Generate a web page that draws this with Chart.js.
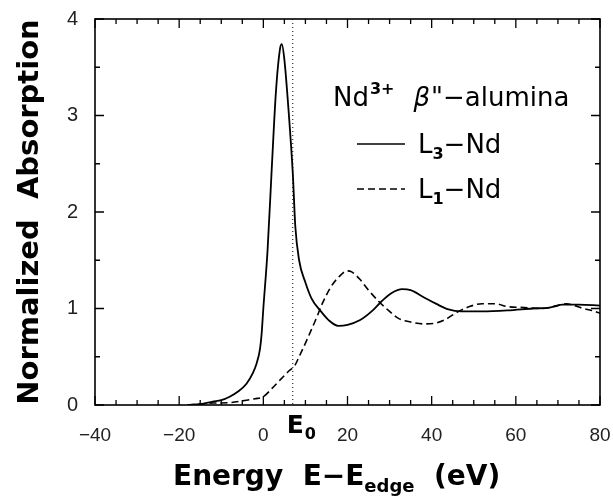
<!DOCTYPE html>
<html>
<head>
<meta charset="utf-8">
<script src="https://cdn.jsdelivr.net/npm/chart.js@4.4.0/dist/chart.umd.min.js"></script>
<style>
  html, body { margin: 0; padding: 0; background: #fff; }
  #wrap { width: 613px; height: 499px; }
</style>
</head>
<body>
<div id="wrap"><canvas id="grafico_absorcao"></canvas></div>
<script>
// energias (eV) e absorcao normalizada
const energiaL3 = [-18, -15, -12, -10, -8, -6, -4, -2.5, -1.6, -0.8, -0.4, 0, 1, 2, 3, 4, 4.4, 5, 6, 7, 7.6, 8.5, 10, 11.5, 13.5, 15.5, 17.8, 20, 23, 26, 28, 30.5, 33, 35, 38, 41, 44, 47, 52, 58, 64, 68, 71, 75, 80];
const absorcaoL3 = [0.0, 0.01, 0.035, 0.05, 0.086, 0.14, 0.22, 0.33, 0.43, 0.58, 0.74, 1.0, 1.6, 2.45, 3.25, 3.7, 3.74, 3.58, 3.05, 2.4, 1.85, 1.5, 1.27, 1.1, 0.98, 0.88, 0.82, 0.83, 0.88, 0.98, 1.07, 1.16, 1.2, 1.19, 1.12, 1.05, 0.99, 0.97, 0.97, 0.98, 1.0, 1.01, 1.04, 1.04, 1.03];

const energiaL1 = [-18, -15, -12, -8, -4, -2, 0, 2, 4, 6, 7.5, 8.5, 10.3, 12.7, 14, 16, 18, 20, 21, 23, 25, 27.5, 30, 32, 35, 38, 41, 43, 46, 49, 52, 55, 58, 62, 66, 70, 72, 74, 76, 78, 80];
const absorcaoL1 = [0.0, 0.01, 0.02, 0.024, 0.05, 0.065, 0.086, 0.17, 0.26, 0.35, 0.41, 0.5, 0.67, 0.91, 1.05, 1.22, 1.33, 1.39, 1.38, 1.3, 1.19, 1.07, 0.97, 0.9, 0.86, 0.84, 0.85, 0.88, 0.96, 1.02, 1.05, 1.05, 1.02, 1.01, 1.0, 1.03, 1.05, 1.03, 1.0, 0.98, 0.95];

const ticksX = [-40, -20, 0, 20, 40, 60, 80];
const ticksY = [0, 1, 2, 3, 4];
const E0 = 7;

const pontos = (xs, ys) => xs.map((x, i) => ({ x: x, y: ys[i] }));

// ticks para dentro, moldura, linha E0, legenda e titulos
const desenhosExtras = {
    id: 'desenhosExtras',
    afterDatasetsDraw(chart) {
        const ctx = chart.ctx;
        const a = chart.chartArea;
        const sx = chart.scales.x, sy = chart.scales.y;
        ctx.save();
        ctx.strokeStyle = '#000';
        ctx.fillStyle = '#000';

        // linha pontilhada E0
        ctx.lineWidth = 1;
        ctx.setLineDash([1, 3]);
        ctx.beginPath();
        ctx.moveTo(sx.getPixelForValue(E0), a.top);
        ctx.lineTo(sx.getPixelForValue(E0), a.bottom);
        ctx.stroke();
        ctx.setLineDash([]);

        // moldura
        ctx.lineWidth = 1.6;
        ctx.strokeRect(a.left, a.top, a.right - a.left, a.bottom - a.top);

        // ticks
        ctx.lineWidth = 1.3;
        for (let v = -40; v <= 80; v += 5) {
            const px = sx.getPixelForValue(v);
            const len = (v % 20 === 0) ? 9 : 5;
            ctx.beginPath();
            ctx.moveTo(px, a.bottom); ctx.lineTo(px, a.bottom - len);
            ctx.moveTo(px, a.top); ctx.lineTo(px, a.top + len);
            ctx.stroke();
        }
        for (let v = 0; v <= 4; v += 0.5) {
            const py = sy.getPixelForValue(v);
            const len = (v % 1 === 0) ? 9 : 5;
            ctx.beginPath();
            ctx.moveTo(a.left, py); ctx.lineTo(a.left + len, py);
            ctx.moveTo(a.right, py); ctx.lineTo(a.right - len, py);
            ctx.stroke();
        }

        // rotulo E0
        ctx.textBaseline = 'alphabetic';
        ctx.font = 'bold 25px "DejaVu Sans"';
        let x = sx.getPixelForValue(E0) - 6;
        ctx.fillText('E', x, 433);
        x += ctx.measureText('E').width + 1;
        ctx.font = 'bold 16px "DejaVu Sans"';
        ctx.fillText('0', x, 439);

        // legenda
        ctx.font = '26px "DejaVu Sans"';
        x = 333;
        ctx.fillText('Nd', x, 106);
        x += ctx.measureText('Nd').width + 1;
        ctx.font = 'bold 16px "DejaVu Sans"';
        ctx.fillText('3+', x, 94);
        x += ctx.measureText('3+').width + 19;
        ctx.font = 'italic 26px "DejaVu Sans"';
        ctx.fillText('\u03B2', x, 106);
        x += ctx.measureText('\u03B2').width + 1;
        ctx.font = '26px "DejaVu Sans"';
        ctx.fillText('"\u2212alumina', x, 106);

        const itens = [
            { nome: '3', y: 144, dash: [] },
            { nome: '1', y: 189, dash: [7, 4] }
        ];
        itens.forEach(it => {
            ctx.lineWidth = 1.6;
            ctx.setLineDash(it.dash);
            ctx.beginPath();
            ctx.moveTo(357, it.y); ctx.lineTo(405, it.y);
            ctx.stroke();
            ctx.setLineDash([]);
            let lx = 418;
            ctx.font = '26px "DejaVu Sans"';
            ctx.fillText('L', lx, it.y + 9);
            lx += ctx.measureText('L').width;
            ctx.font = 'bold 16px "DejaVu Sans"';
            ctx.fillText(it.nome, lx, it.y + 15);
            lx += ctx.measureText(it.nome).width;
            ctx.font = '26px "DejaVu Sans"';
            ctx.fillText('\u2212Nd', lx, it.y + 9);
        });

        // titulo eixo x
        ctx.font = 'bold 28px "DejaVu Sans"';
        x = 173;
        ctx.fillText('Energy  E\u2212E', x, 485);
        x += ctx.measureText('Energy  E\u2212E').width;
        ctx.font = 'bold 18px "DejaVu Sans"';
        ctx.fillText('edge', x, 492);
        x += ctx.measureText('edge').width;
        ctx.font = 'bold 28px "DejaVu Sans"';
        ctx.fillText('  (eV)', x, 485);

        // titulo eixo y
        ctx.translate(38, 212);
        ctx.rotate(-Math.PI / 2);
        ctx.font = 'bold 29px "DejaVu Sans"';
        ctx.textAlign = 'center';
        ctx.fillText('Normalized  Absorption', 0, 0);
        ctx.restore();
    }
};

const ctx = document.getElementById('grafico_absorcao').getContext('2d');
const myChart = new Chart(ctx, {
    type: 'line',
    data: {
        datasets: [{
            label: 'L3-Nd',
            data: pontos(energiaL3, absorcaoL3),
            borderColor: '#000',
            borderWidth: 1.8,
            pointRadius: 0,
            cubicInterpolationMode: 'monotone',
            fill: false
        }, {
            label: 'L1-Nd',
            data: pontos(energiaL1, absorcaoL1),
            borderColor: '#000',
            borderWidth: 1.6,
            borderDash: [7, 4],
            pointRadius: 0,
            cubicInterpolationMode: 'monotone',
            fill: false
        }]
    },
    options: {
        responsive: true,
        maintainAspectRatio: false,
        animation: false,
        layout: { padding: { left: 0, right: 13, top: 19, bottom: 0 } },
        plugins: {
            legend: { display: false },
            tooltip: { enabled: false }
        },
        scales: {
            x: {
                type: 'linear',
                min: -40,
                max: 80,
                afterFit: (s) => { s.height = 94; s.paddingLeft = 0; s.paddingRight = 0; },
                afterBuildTicks: (s) => { s.ticks = ticksX.map(v => ({ value: v })); },
                grid: { display: false, drawTicks: false },
                border: { display: false },
                ticks: {
                    padding: 19,
                    color: '#222',
                    maxRotation: 0,
                    font: { family: 'Liberation Sans', size: 19 },
                    callback: (v) => String(v).replace('-', '\u2212')
                }
            },
            y: {
                type: 'linear',
                min: 0,
                max: 4,
                afterFit: (s) => { s.width = 95; s.paddingTop = 0; s.paddingBottom = 0; },
                afterBuildTicks: (s) => { s.ticks = ticksY.map(v => ({ value: v })); },
                grid: { display: false, drawTicks: false },
                border: { display: false },
                ticks: {
                    padding: 17,
                    color: '#222',
                    font: { family: 'Liberation Sans', size: 20 }
                }
            }
        }
    },
    plugins: [desenhosExtras]
});
</script>
</body>
</html>
